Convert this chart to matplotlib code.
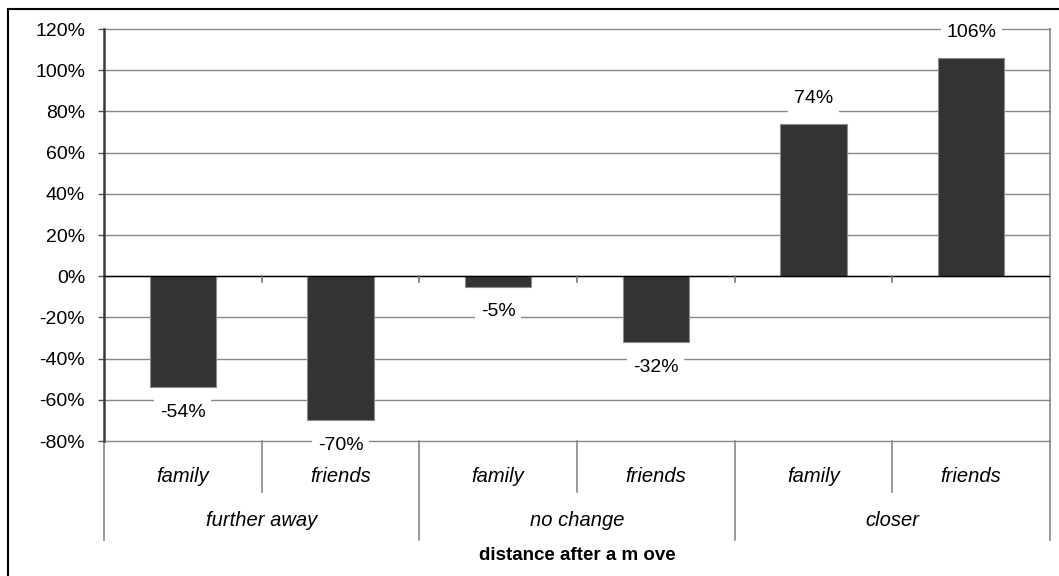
import matplotlib
matplotlib.use("Agg")
import matplotlib.pyplot as plt
import matplotlib.transforms as mtransforms
from matplotlib.patches import Rectangle

plt.rcParams["font.family"] = ["Liberation Sans", "DejaVu Sans"]

# data
groups = ["further away", "no change", "closer"]
members = ["family", "friends"]
values = [-54, -70, -5, -32, 74, 106]
yticks = [120, 100, 80, 60, 40, 20, 0, -20, -40, -60, -80]

W, H = 1059, 576
fig = plt.figure(figsize=(W / 100, H / 100), dpi=100)

# plot area in pixels
x0, x1, y0, y1 = 104, 1050, 29, 441
ax = fig.add_axes([x0 / W, 1 - y1 / H, (x1 - x0) / W, (y1 - y0) / H])

n = len(values)
pos = list(range(n))
ax.bar(pos, values, width=0.42, color="#333333", edgecolor="#8c8c8c",
       linewidth=0.8, zorder=3)

ax.set_xlim(-0.5, n - 0.5)
ax.set_ylim(-80, 120)
ax.set_yticks(yticks)
ax.set_yticklabels([f"{t}%" for t in yticks], fontsize=14)
ax.set_xticks([])
for t in yticks:
    ax.axhline(t, color="#888888", linewidth=1.0, zorder=1, clip_on=False)
ax.axhline(0, color="#000000", linewidth=1.0, zorder=4)

for s in ["top", "bottom"]:
    ax.spines[s].set_visible(False)
ax.spines["left"].set_color("#3c3c3c")
ax.spines["left"].set_linewidth(1.8)
ax.spines["right"].set_color("#888888")
ax.spines["right"].set_linewidth(1.2)
ax.tick_params(axis="y", length=4.5, width=1.0, color="#555555", pad=9)

# value labels with white boxes over the grid
for p, v in zip(pos, values):
    off = 18 if v > 0 else -18
    ax.annotate(f"{v}%", (p, v), xytext=(0, off), textcoords="offset points",
                ha="center", va="center", fontsize=14, zorder=5,
                annotation_clip=False,
                bbox=dict(facecolor="white", edgecolor="none", pad=4))

# category axis: ticks on the zero line, separators and labels below
trans = mtransforms.blended_transform_factory(ax.transData, ax.transAxes)
h = y1 - y0
zero_y = (0 - -80) / 200
for b in [i + 0.5 for i in range(n - 1)]:
    ax.plot([b, b], [zero_y, zero_y - 6 / h], color="#777777", linewidth=1.2,
            transform=trans, clip_on=False, zorder=4)

for i in range(n + 1):
    b = i - 0.5
    outer = i % 2 == 0
    bottom = -99 / h if outer else -51 / h
    ax.plot([b, b], [0, bottom], color="#888888", linewidth=1.2,
            transform=trans, clip_on=False)

for i in range(n):
    ax.text(i, -35 / h, members[i % 2], transform=trans, ha="center",
            va="center", fontsize=14.5, style="italic")
for g, name in enumerate(groups):
    ax.text(2 * g + 0.5, -80 / h, name, transform=trans, ha="center",
            va="center", fontsize=14.5, style="italic")

ax.text(0.5, -114 / h, "distance after a m ove", transform=ax.transAxes,
        ha="center", va="center", fontsize=13.5, fontweight="bold")

# chart frame
fig.patches.append(Rectangle((8 / W, -0.1), 1.2, 1 - 9 / H + 0.1,
                             transform=fig.transFigure, fill=False,
                             edgecolor="black", linewidth=1.5))

fig.savefig("out.png", dpi=100)
